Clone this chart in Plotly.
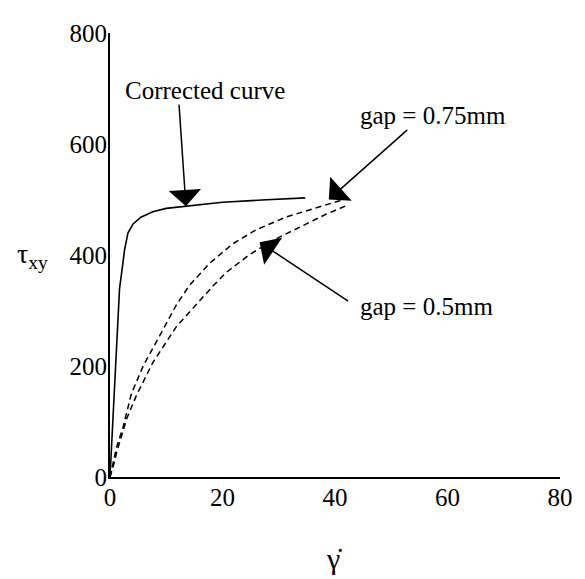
import plotly.graph_objects as go

# Data
corr_x = [0, 0.3, 0.6, 0.9, 1.3, 1.7, 2.1, 2.6, 3.2, 4.1, 5.5, 7.6, 10, 13.5, 20, 27, 34.7]
corr_y = [0, 60, 140, 200, 280, 340, 370, 410, 440, 456, 468, 478, 484, 488, 495, 499, 503]

gap075_x = [0, 0.6, 1.2, 2.3, 3.8, 5.9, 8.8, 11.8, 14.1, 17.7, 21.8, 25.9, 31.2, 36, 39.5, 41.5]
gap075_y = [0, 30, 55, 89, 150, 200, 255, 310, 345, 385, 420, 445, 468, 483, 493, 500]

gap05_x = [0, 0.6, 1.2, 3.0, 4.7, 7.6, 11.8, 15.9, 18.3, 20.6, 24.7, 28.9, 33.6, 38.3, 41.8]
gap05_y = [0, 20, 45, 106, 147, 206, 271, 318, 344, 368, 400, 426, 450, 473, 488]

x_ticks = [0, 20, 40, 60, 80]
y_ticks = [0, 200, 400, 600, 800]

FONT = "Liberation Serif, Times New Roman, serif"

fig = go.Figure()
fig.add_trace(go.Scatter(x=corr_x, y=corr_y, mode="lines",
                         line=dict(color="black", width=1.6), showlegend=False))
fig.add_trace(go.Scatter(x=gap075_x, y=gap075_y, mode="lines",
                         line=dict(color="black", width=1.5, dash="6px,4px"), showlegend=False))
fig.add_trace(go.Scatter(x=gap05_x, y=gap05_y, mode="lines",
                         line=dict(color="black", width=1.5, dash="6px,4px"), showlegend=False))

arrow = dict(showarrow=True, arrowhead=1, arrowsize=3.6, arrowwidth=1.5,
             arrowcolor="black", xref="x", yref="y", text="")
fig.add_annotation(x=13.5, y=488, ax=-7, ay=-103, **arrow)
fig.add_annotation(x=38.9, y=500, ax=80, ay=-71, **arrow)
fig.add_annotation(x=26.6, y=423, ax=90, ay=60, **arrow)

txt = dict(showarrow=False, xref="x", yref="y", xanchor="center", yanchor="middle",
           font=dict(family=FONT, size=25, color="black"))
fig.add_annotation(x=16.8, y=696, text="Corrected curve", **txt)
fig.add_annotation(x=57.5, y=652, text="gap = 0.75mm", **txt)
fig.add_annotation(x=56.3, y=307, text="gap = 0.5mm", **txt)

fig.add_annotation(x=-0.173, y=0.5, xref="paper", yref="paper", showarrow=False,
                   xanchor="center", yanchor="middle",
                   text="τ<sub>xy</sub>", font=dict(family=FONT, size=28, color="black"))
fig.add_annotation(x=0.498, y=-0.183, xref="paper", yref="paper", showarrow=False,
                   xanchor="center", yanchor="middle",
                   text="\u03b3\u0307", font=dict(family=FONT, size=30, color="black"))

fig.update_xaxes(range=[0, 80], tickvals=x_ticks, ticktext=[str(v) for v in x_ticks],
                 showgrid=False, zeroline=False, showline=True, linecolor="black", linewidth=2,
                 ticks="", ticklabelstandoff=-3, ticklabeloverflow="allow",
                 tickfont=dict(family=FONT, size=25, color="black"))
fig.update_yaxes(range=[0, 800], tickvals=y_ticks, ticktext=[str(v) for v in y_ticks],
                 showgrid=False, zeroline=False, showline=True, linecolor="black", linewidth=2,
                 ticks="", ticklabelstandoff=-4, ticklabeloverflow="allow",
                 tickfont=dict(family=FONT, size=25, color="black"))

# page body has an 8px margin, so the figure is shifted to keep the plot area in place
fig.update_layout(width=577, height=571, margin=dict(l=102, r=19, t=15, b=102),
                  plot_bgcolor="white", paper_bgcolor="white", showlegend=False)

fig.write_html("out.html")
